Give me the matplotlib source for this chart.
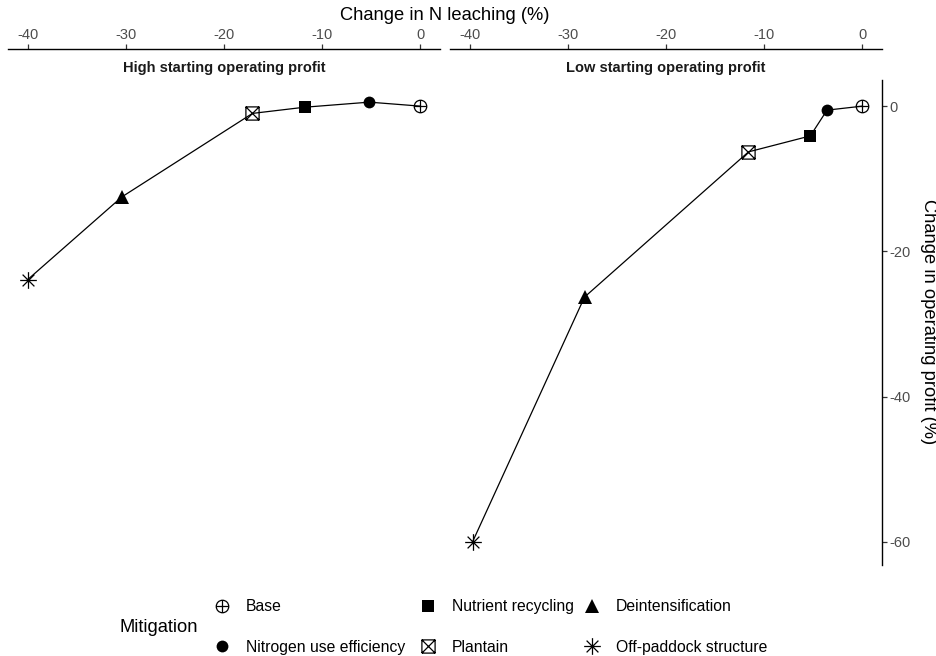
import matplotlib
matplotlib.use('Agg')
import matplotlib.pyplot as plt
import matplotlib as mpl
from matplotlib.path import Path
from matplotlib.markers import MarkerStyle
from matplotlib.lines import Line2D

# Scenario data (change relative to base, %)
mitigations = ['Base', 'Nitrogen use efficiency', 'Nutrient recycling',
               'Plantain', 'Deintensification', 'Off-paddock structure']

high_leaching = [0, -5.2, -11.8, -17.1, -30.4, -40.0]
high_profit = [0, 0.55, -0.15, -1.0, -12.5, -23.9]

low_leaching = [0, -3.6, -5.3, -11.6, -28.3, -39.7]
low_profit = [0, -0.55, -4.1, -6.3, -26.3, -60.0]

x_ticks = [-40, -30, -20, -10, 0]
y_ticks = [0, -20, -40, -60]

mpl.rcParams['font.family'] = 'Liberation Sans'
mpl.rcParams['axes.unicode_minus'] = False

M, L = Path.MOVETO, Path.LINETO

# circle with a plus through it
circle_plus = Path.make_compound_path(
    Path.unit_circle(),
    Path([[-1, 0], [1, 0]], [M, L]),
    Path([[0, -1], [0, 1]], [M, L]))

# square with a cross through it
square_cross = Path(
    [[-1, -1], [1, -1], [1, 1], [-1, 1], [-1, -1],
     [-1, -1], [1, 1], [-1, 1], [1, -1]],
    [M, L, L, L, L, M, L, M, L])

# eight-armed asterisk
d = 0.7071
asterisk = Path(
    [[-1, 0], [1, 0], [0, -1], [0, 1], [-d, -d], [d, d], [-d, d], [d, -d]],
    [M, L, M, L, M, L, M, L])

styles = {
    'Base': dict(marker=MarkerStyle(circle_plus), markersize=9, mfc='none', mew=0.9),
    'Nitrogen use efficiency': dict(marker='o', markersize=8.5, mfc='black', mew=0),
    'Nutrient recycling': dict(marker='s', markersize=8.5, mfc='black', mew=0),
    'Plantain': dict(marker=MarkerStyle(square_cross), markersize=9.5, mfc='none', mew=0.9),
    'Deintensification': dict(marker='^', markersize=10, mfc='black', mew=0),
    'Off-paddock structure': dict(marker=MarkerStyle(asterisk), markersize=12, mfc='none', mew=0.9),
}

W, H = 936, 656
fig = plt.figure(figsize=(W / 100, H / 100), dpi=100)

ax_top, ax_bot = 80, 565
ax_h = ax_bot - ax_top
ax_high = fig.add_axes([8 / W, 1 - ax_bot / H, 432 / W, ax_h / H])
ax_low = fig.add_axes([450 / W, 1 - ax_bot / H, 432 / W, ax_h / H])

panels = [(ax_high, high_leaching, high_profit, 'High starting operating profit'),
          (ax_low, low_leaching, low_profit, 'Low starting operating profit')]

for ax, xs, ys, title in panels:
    # line joins points in order of leaching change
    order = sorted(range(len(xs)), key=lambda i: xs[i])
    ax.plot([xs[i] for i in order], [ys[i] for i in order],
            color='black', lw=0.9, zorder=2)
    for name, x, y in zip(mitigations, xs, ys):
        ax.plot([x], [y], color='black', linestyle='none', zorder=3, **styles[name])

    ax.set_xlim(-42, 2)
    ax.set_ylim(-63.2, 3.6)
    ax.set_xticks(x_ticks)
    ax.set_xticklabels([str(t) for t in x_ticks])
    ax.xaxis.set_ticks_position('top')
    ax.spines['top'].set_position(('outward', 22))
    ax.spines['top'].set_linewidth(1.0)
    ax.spines['bottom'].set_visible(False)
    ax.spines['left'].set_visible(False)
    ax.tick_params(axis='x', colors='#333333', labelcolor='#4d4d4d',
                   labelsize=10.5, length=3.5, width=0.9, pad=2)
    ax.set_facecolor('none')
    ax.text(0.5, 1.0 + 12 / ax_h, title, transform=ax.transAxes,
            ha='center', va='center', fontsize=10.5, fontweight='bold',
            color='#1a1a1a')

ax_high.spines['right'].set_visible(False)
ax_high.set_yticks([])

ax_low.spines['right'].set_linewidth(1.0)
ax_low.yaxis.set_ticks_position('right')
ax_low.set_yticks(y_ticks)
ax_low.set_yticklabels([str(t) for t in y_ticks])
ax_low.tick_params(axis='y', colors='#333333', labelcolor='#4d4d4d',
                   labelsize=10.5, length=3.5, width=0.9, pad=2)

fig.text(445 / W, 1 - 16 / H, 'Change in N leaching (%)',
         ha='center', va='center', fontsize=13.2)
fig.text(928 / W, 1 - 322 / H, 'Change in operating profit (%)',
         ha='center', va='center', rotation=270, fontsize=13.2)

# legend laid out as three columns of two entries
fig.text(120 / W, 1 - 628 / H, 'Mitigation', ha='left', va='center', fontsize=13.2)
columns = [(['Base', 'Nitrogen use efficiency'], 214),
           (['Nutrient recycling', 'Plantain'], 420),
           (['Deintensification', 'Off-paddock structure'], 584)]
for names, x_px in columns:
    handles = [Line2D([], [], color='black', linestyle='none', **styles[n]) for n in names]
    fig.legend(handles, names, loc='center left',
               bbox_to_anchor=(x_px / W, 1 - 627 / H),
               frameon=False, fontsize=11.3, handlelength=1.0,
               handletextpad=1.05, labelspacing=1.6,
               borderpad=0, borderaxespad=0)

fig.savefig('out.png', dpi=100)
